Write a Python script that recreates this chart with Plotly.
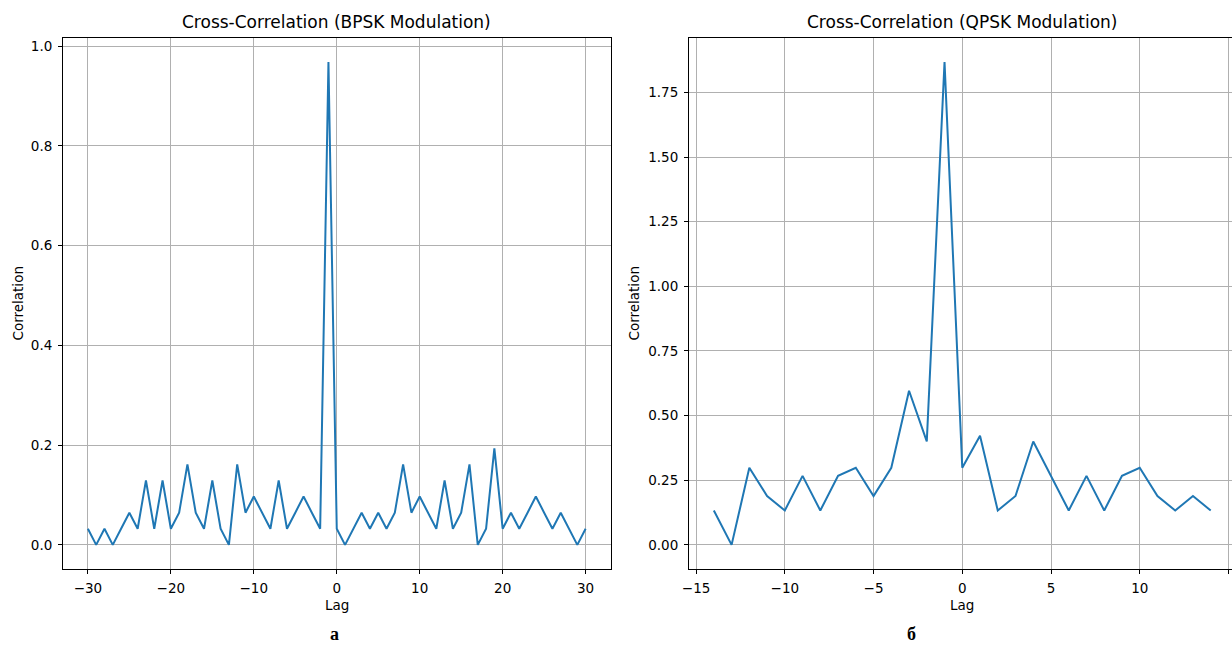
import plotly.graph_objects as go

# ---------------- data ----------------
bpsk_lags = list(range(-30, 31))
bpsk_corr_units = [1, 0, 1, 0, 1, 2, 1, 4, 1, 4, 1, 2, 5, 2, 1, 4, 1, 0, 5, 2,
                   3, 2, 1, 4, 1, 2, 3, 2, 1, 30, 1, 0, 1, 2, 1, 2, 1, 2, 5, 2,
                   3, 2, 1, 4, 1, 2, 5, 0, 1, 6, 1, 2, 1, 2, 3, 2, 1, 2, 1, 0, 1]
bpsk_corr = [v / 31 for v in bpsk_corr_units]

qpsk_lags = list(range(-14, 15))
qpsk_corr = [0.133, 0.0, 0.298, 0.189, 0.133, 0.267, 0.133, 0.267, 0.298, 0.189,
             0.298, 0.596, 0.400, 1.867, 0.298, 0.422, 0.133, 0.189, 0.400, 0.267,
             0.133, 0.267, 0.133, 0.267, 0.298, 0.189, 0.133, 0.189, 0.133]

titles = ["Cross-Correlation (BPSK Modulation)", "Cross-Correlation (QPSK Modulation)"]
panel_labels = ["а", "б"]

W, H = 1232, 646
LINE = "#1f77b4"
FONT = "DejaVu Sans"

fig = go.Figure()
fig.add_trace(go.Scatter(x=bpsk_lags, y=bpsk_corr, mode="lines",
                         line=dict(color=LINE, width=2), xaxis="x", yaxis="y",
                         showlegend=False, hoverinfo="skip"))
fig.add_trace(go.Scatter(x=qpsk_lags, y=qpsk_corr, mode="lines",
                         line=dict(color=LINE, width=2), xaxis="x2", yaxis="y2",
                         showlegend=False, hoverinfo="skip"))

def px_x(p):
    return p / W

def px_y(p):
    return 1 - p / H

top, bottom = 38, 569
left1, right1 = 63, 610.5
left2 = 689

axis_common = dict(
    showline=True, linecolor="black", linewidth=1, mirror=True,
    ticks="outside", ticklen=4, tickwidth=1, tickcolor="black",
    showgrid=True, gridcolor="#b0b0b0", gridwidth=0.8,
    zeroline=False, tickfont=dict(family=FONT, size=13.5, color="black"),
    ticklabelstandoff=3, automargin=False,
)

fig.update_layout(
    width=W, height=H,
    margin=dict(l=0, r=0, t=0, b=0, autoexpand=False),
    paper_bgcolor="white", plot_bgcolor="white",
    xaxis=dict(domain=[px_x(left1), px_x(right1)], range=[-33, 33],
               tickmode="array", tickvals=[-30, -20, -10, 0, 10, 20, 30],
               anchor="y", **axis_common),
    yaxis=dict(domain=[px_y(bottom), px_y(top)], range=[-0.0484, 1.0161],
               tickmode="array", tickvals=[0, 0.2, 0.4, 0.6, 0.8, 1.0],
               tickformat=".1f", anchor="x", **axis_common),
    xaxis2=dict(domain=[px_x(left2), 1.0], range=[-15.4, 15.2],
                tickmode="array", tickvals=[-15, -10, -5, 0, 5, 10, 15],
                anchor="y2", **axis_common),
    yaxis2=dict(domain=[px_y(bottom), px_y(top)], range=[-0.0933, 1.9603],
                tickmode="array", tickvals=[0, 0.25, 0.5, 0.75, 1.0, 1.25, 1.5, 1.75],
                tickformat=".2f", anchor="x2", **axis_common),
)

ann = []
centers = [(left1 + right1) / 2, 962]
for c, t in zip(centers, titles):
    ann.append(dict(text=t, x=px_x(c), y=px_y(22), xref="paper", yref="paper",
                    xanchor="center", yanchor="middle", showarrow=False,
                    font=dict(family=FONT, size=17, color="black")))
    ann.append(dict(text="Lag", x=px_x(c), y=px_y(605), xref="paper", yref="paper",
                    xanchor="center", yanchor="middle", showarrow=False,
                    font=dict(family=FONT, size=13.5, color="black")))
for xp in [17, 633]:
    ann.append(dict(text="Correlation", x=px_x(xp), y=px_y((top + bottom) / 2),
                    xref="paper", yref="paper", xanchor="center", yanchor="middle",
                    textangle=-90, showarrow=False,
                    font=dict(family=FONT, size=13.5, color="black")))
for xp, lab in zip([334, 911], panel_labels):
    ann.append(dict(text="<b>" + lab + "</b>", x=px_x(xp), y=0.0,
                    xref="paper", yref="paper", xanchor="center", yanchor="bottom",
                    showarrow=False,
                    font=dict(family="Liberation Serif", size=18, color="black")))
fig.update_layout(annotations=ann)

fig.write_html("out.html")
